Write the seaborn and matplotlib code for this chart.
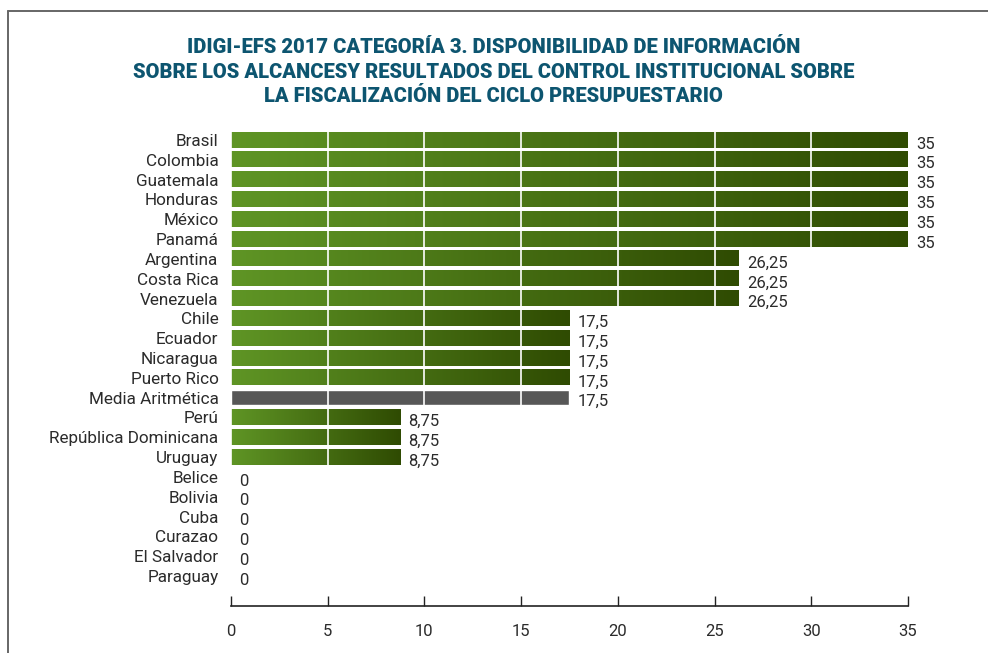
import numpy as np
import pandas as pd
import matplotlib
matplotlib.use('Agg')
import matplotlib.pyplot as plt
import matplotlib.colors as mcolors
import seaborn as sns

countries = ["Brasil", "Colombia", "Guatemala", "Honduras", "México", "Panamá",
             "Argentina", "Costa Rica", "Venezuela", "Chile", "Ecuador", "Nicaragua",
             "Puerto Rico", "Media Aritmética", "Perú", "República Dominicana",
             "Uruguay", "Belice", "Bolivia", "Cuba", "Curazao", "El Salvador", "Paraguay"]
scores = [35, 35, 35, 35, 35, 35,
          26.25, 26.25, 26.25, 17.5, 17.5, 17.5,
          17.5, 17.5, 8.75, 8.75,
          8.75, 0, 0, 0, 0, 0, 0]
x_ticks = [0, 5, 10, 15, 20, 25, 30, 35]

title = ("IDIGI-EFS 2017 CATEGORÍA 3. DISPONIBILIDAD DE INFORMACIÓN\n"
         "SOBRE LOS ALCANCESY RESULTADOS DEL CONTROL INSTITUCIONAL SOBRE\n"
         "LA FISCALIZACIÓN DEL CICLO PRESUPUESTARIO")

GREEN_L = "#5f9525"
GREEN_D = "#2f4b02"
MEAN_C = "#575757"
TXT = "#2b2b2b"

df = pd.DataFrame({"country": countries, "score": scores})

sns.set_theme(style="white")
plt.rcParams['font.family'] = ['Roboto', 'DejaVu Sans']

fig = plt.figure(figsize=(9.88, 6.53), dpi=100)
ax = fig.add_axes([0.2338, 0.072, 0.6852, 0.732])

sns.barplot(data=df, x="score", y="country", orient="h", ax=ax,
            color=GREEN_L, width=0.76, saturation=1)

ramp = mcolors.LinearSegmentedColormap.from_list("g", [GREEN_L, GREEN_D])
grad = ramp(np.linspace(0, 1, 256))[None, :, :]

for p, name in zip(ax.patches, countries):
    w = p.get_width()
    if w <= 0:
        continue
    y0, h = p.get_y(), p.get_height()
    if name == "Media Aritmética":
        p.set_facecolor(MEAN_C)
        continue
    p.set_alpha(0)
    ax.imshow(grad, extent=[0, w, y0 + h, y0], aspect="auto",
              interpolation="bilinear", zorder=2)

# white grid lines drawn over the bars only
ax.vlines(x_ticks[:-1], -0.5, len(countries) - 0.5, color="white",
          lw=1.4, alpha=0.85, zorder=3)

for i, v in enumerate(scores):
    ax.annotate(f"{v:g}".replace(".", ","), (v, i), xytext=(6, -3),
                textcoords="offset points", va="center", ha="left",
                fontsize=12, color=TXT, annotation_clip=False)

ax.set_xlim(0, 35)
ax.set_ylim(23.51, -0.605)
ax.set_xticks(x_ticks)
ax.set_xlabel("")
ax.set_ylabel("")
ax.tick_params(axis="x", direction="in", length=7, width=1, color="#222222",
               pad=13, labelsize=12, labelcolor=TXT, bottom=True)
ax.tick_params(axis="y", length=0, pad=9, labelsize=12.3, labelcolor=TXT)
for s in ["top", "right", "left"]:
    ax.spines[s].set_visible(False)
ax.spines["bottom"].set_color("#222222")
ax.spines["bottom"].set_linewidth(1.2)
ax.grid(False)

fig.text(0.4995, 0.942, title, ha="center", va="top", fontsize=14.5,
         fontweight="black", color="#0d5570", linespacing=1.38)

# outer frame (left and top edges)
fig.add_artist(plt.Line2D([8 / 988, 8 / 988], [0, 1 - 11 / 653],
                          transform=fig.transFigure, color="#666666", lw=1.4))
fig.add_artist(plt.Line2D([8 / 988, 1], [1 - 11 / 653, 1 - 11 / 653],
                          transform=fig.transFigure, color="#666666", lw=1.4))

fig.savefig("out.png", dpi=100)
